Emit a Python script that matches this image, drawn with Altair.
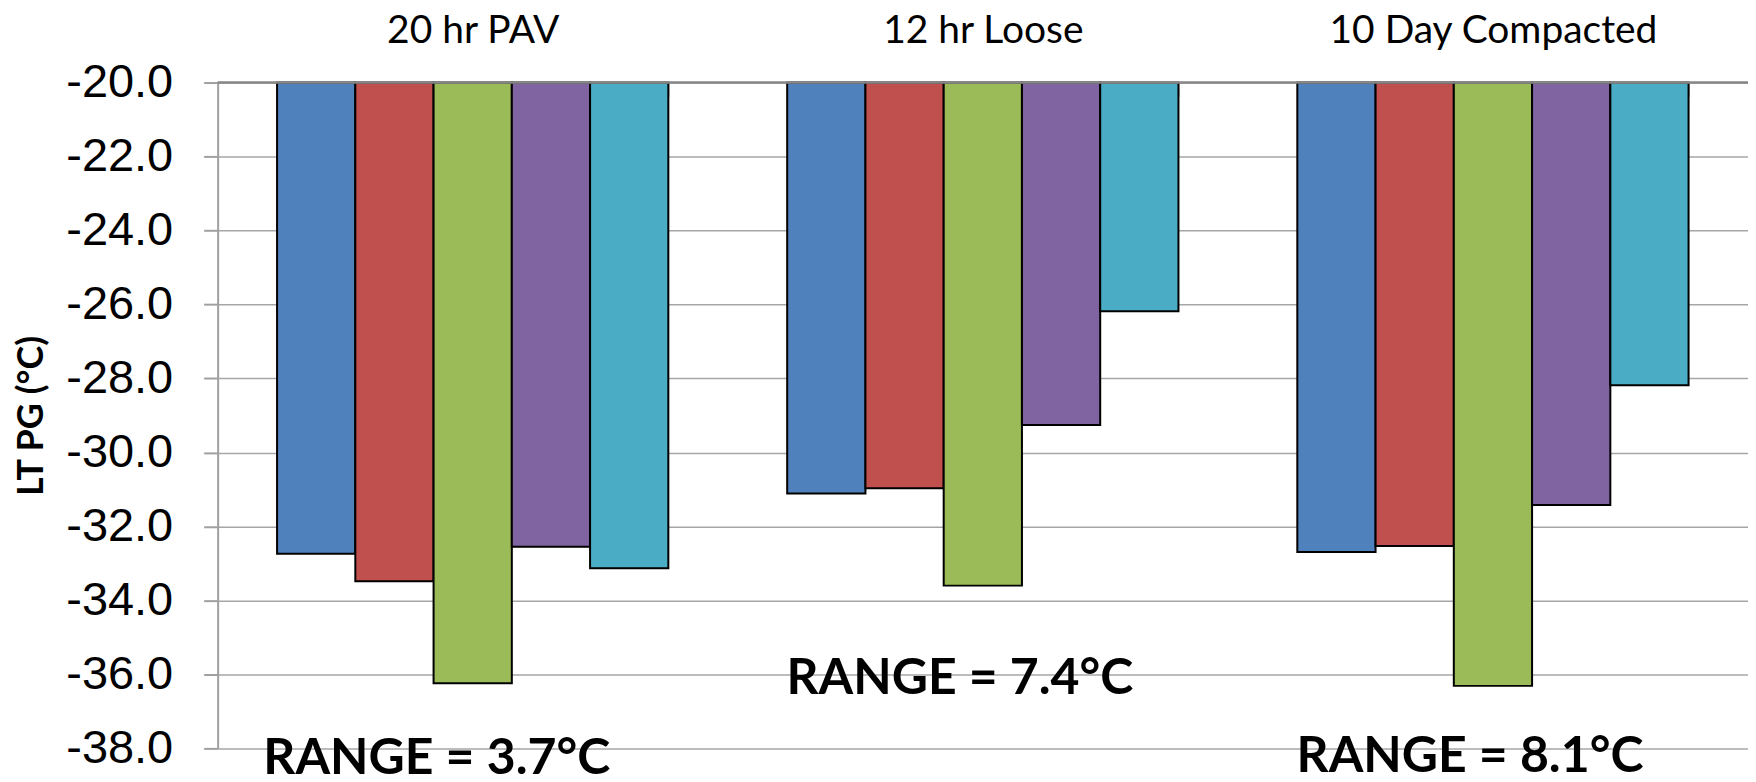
import altair as alt
import pandas as pd

categories = ["20 hr PAV", "12 hr Loose", "10 Day Compacted"]
series = ["Series 1", "Series 2", "Series 3", "Series 4", "Series 5"]
colors = ["#4F81BD", "#C0504D", "#9BBB59", "#8064A2", "#4BACC6"]

s1 = [-32.74, -31.11, -32.69]
s2 = [-33.48, -30.97, -32.53]
s3 = [-36.24, -33.60, -36.31]
s4 = [-32.55, -29.26, -31.42]
s5 = [-33.13, -26.18, -28.18]
all_series = [s1, s2, s3, s4, s5]

y_ticks = [-38, -36, -34, -32, -30, -28, -26, -24, -22, -20]
base_value = -20.0

range_labels = ["RANGE = 3.7°C", "RANGE = 7.4°C", "RANGE = 8.1°C"]
range_y = [-38.70, -36.54, -38.65]
range_dx = [-36, -23, -23]

rows = []
for s_name, vals in zip(series, all_series):
    for cat, v in zip(categories, vals):
        rows.append({"group": cat, "series": s_name, "value": v, "base": base_value})
df = pd.DataFrame(rows)

x_enc = alt.X(
    "group:N",
    sort=categories,
    scale=alt.Scale(paddingInner=0.233, paddingOuter=0.1165),
    axis=alt.Axis(
        orient="top", title=None, domain=False, grid=False,
        ticks=True, tickSize=14, tickBand="extent", tickColor="#A0A0A0", tickWidth=2,
        offset=-14,
        labelFont="Lato", labelFontSize=39, labelColor="black",
        labelPadding=40, labelBaseline="alphabetic", labelAngle=0, labelLimit=0,
    ),
)

y_enc = alt.Y(
    "value:Q",
    scale=alt.Scale(domain=[-38, -20], nice=False, zero=False),
    axis=alt.Axis(
        values=y_ticks,
        labelExpr="(datum.value < 0 ? '-' : '') + format(abs(datum.value), '.1f')",
        labelFont="Liberation Sans", labelFontSize=47, labelColor="black", labelPadding=31,
        domainColor="#A0A0A0", domainWidth=2,
        tickColor="#A0A0A0", tickSize=14, tickWidth=2,
        gridColor="#A6A6A6", gridWidth=1.5,
        title="LT PG (°C)", titleFont="Lato", titleFontWeight="bold", titleFontSize=36,
        titleColor="black", titleAngle=-90, titleX=-186, titleY=333.5,
        titleAlign="center", titleBaseline="middle",
    ),
)

bars = alt.Chart(df).mark_bar(stroke="black", strokeWidth=2).encode(
    x=x_enc,
    xOffset=alt.XOffset("series:N", sort=series, scale=alt.Scale(paddingInner=0, paddingOuter=0)),
    y=y_enc,
    y2="base:Q",
    color=alt.Color("series:N", scale=alt.Scale(domain=series, range=colors), legend=None),
)

top_line = alt.Chart(pd.DataFrame({"b": [base_value]})).mark_rule(
    color="#878787", strokeWidth=2.5
).encode(y=alt.Y("b:Q"))

layers = [bars, top_line]
for cat, lab, yv, dx in zip(categories, range_labels, range_y, range_dx):
    tdf = pd.DataFrame({"group": [cat], "value": [yv], "label": [lab]})
    layers.append(
        alt.Chart(tdf).mark_text(
            font="Lato", fontWeight="bold", fontSize=50, color="black",
            align="center", baseline="alphabetic", dx=dx,
        ).encode(
            x=alt.X("group:N", sort=categories),
            y=alt.Y("value:Q"),
            text="label:N",
        )
    )

chart = alt.layer(*layers).properties(
    width=1533,
    height=667,
    autosize=alt.AutoSizeParams(type="none"),
    padding={"left": 210, "top": 74, "right": 0, "bottom": 32},
).configure_view(stroke=None)

chart.save("out.html", embed_options={"renderer": "svg", "actions": False})
